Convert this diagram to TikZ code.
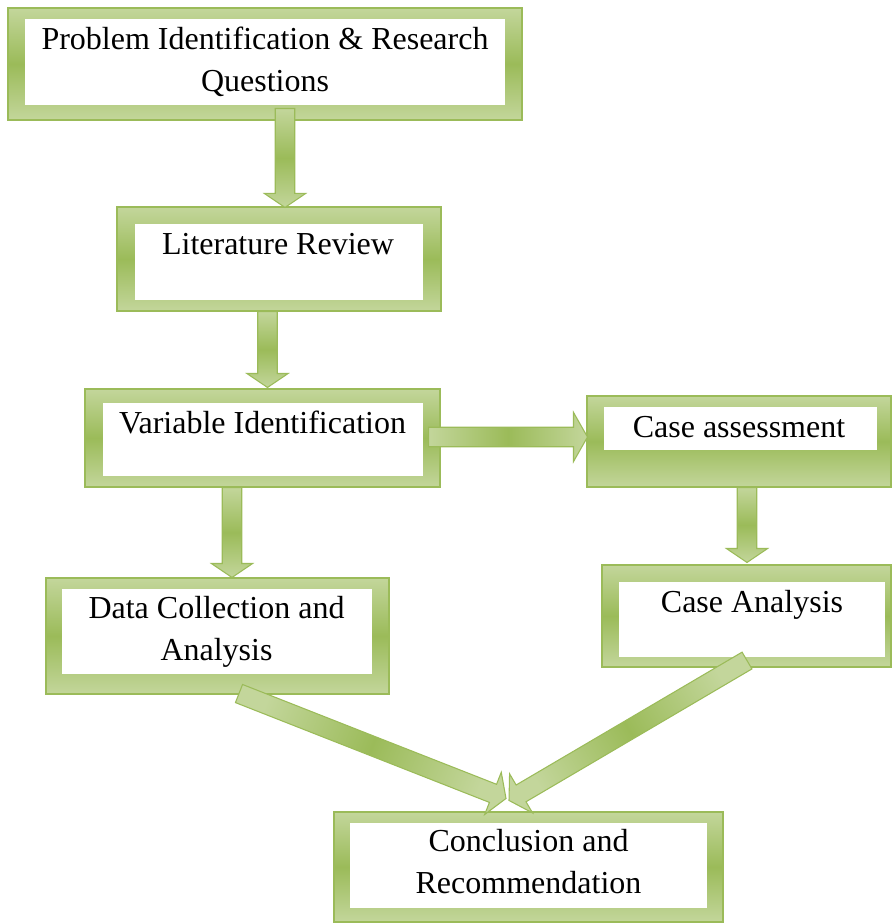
\documentclass[tikz,border=0pt]{standalone}
\usepackage{fontspec}
\setmainfont{Liberation Serif}
\usepackage{tikz}
\usetikzlibrary{calc,% points along and across the block arrows
fit}%                 frames fitted to their corners
\definecolor{olivelight}{HTML}{C3D69B}
\definecolor{olivedark}{HTML}{9BBB59}
\tikzset{every node/.style={font=\fontsize{24}{31.5}\selectfont}}
\tikzset{boxframe/.style={draw=olivedark, line width=0.8pt, inner sep=0pt,
    top color=olivelight, bottom color=olivelight, middle color=olivedark},
  boxtext/.style={align=center, inner sep=0pt},
  arrowfill/.style={draw=olivedark, line width=0.8pt,
    top color=olivelight, bottom color=olivelight, middle color=olivedark}}
\newcommand{\shafthw}{7.3pt}
\newcommand{\headlen}{10.5pt}
% frame with white window: name, outer NW, outer SE, inner NW, inner SE
\newcommand{\greenbox}[5]
{\node[boxframe, fit={(#2) (#3)}] (#1) {};
  \fill[white] (#4) rectangle (#5);}
% block arrow: [head half width] tail, tip, shading angle
\newcommand{\blockarrow}[4][15.5pt]
{\coordinate (ba-tail) at (#2);
  \coordinate (ba-tip) at (#3);
  \coordinate (ba-neck) at ($(ba-tip)!\headlen!(ba-tail)$);
  \path[arrowfill, shading angle=#4]
    ($(ba-tail)!\shafthw!90:(ba-tip)$) -- ($(ba-neck)!\shafthw!90:(ba-tip)$)
    -- ($(ba-neck)!#1!90:(ba-tip)$) -- (ba-tip)
    -- ($(ba-neck)!#1!-90:(ba-tip)$) -- ($(ba-neck)!\shafthw!-90:(ba-tip)$)
    -- ($(ba-tail)!\shafthw!-90:(ba-tip)$) -- cycle;}
\begin{document}
\begin{tikzpicture}[x=0.75pt,y=-0.75pt]
  \useasboundingbox (0,0) rectangle (892,923);
  \greenbox{prob}{8,8}{522,120}{25,19}{505,105}
  \greenbox{lit}{117,207}{441,311}{135,224}{423,300}
  \greenbox{var}{85,389}{440,487}{103,403}{423,476}
  \greenbox{case}{587,396}{891,487}{604,407}{877,450}
  \greenbox{anal}{602,565}{891,667}{619,582}{885,657}
  \greenbox{data}{46,578}{389,694}{62,589}{372,674}
  \greenbox{concl}{334,812}{723,922}{350,823}{707,908}
  \blockarrow{$(prob.south)+(20,-12)$}{$(lit.north)+(6,1)$}{0}
  \blockarrow{$(lit.south)+(-11.5,0)$}{$(var.north)+(5,-1)$}{0}
  \blockarrow[18.5pt]{$(var.east)+(-12,-1)$}{$(case.west)+(1,-4.5)$}{90}
  \blockarrow{$(case.south)+(8,0)$}{$(anal.north)+(0.5,-2)$}{0}
  \blockarrow{$(var.south)+(-30.5,0)$}{$(data.north)+(14.5,0)$}{0}
  \blockarrow[17pt]{$(data.south)+(21.5,-1)$}{$(concl.north)+(-22.5,-13)$}{68.5}
  \blockarrow[17pt]{$(anal.south)+(0.5,-7)$}{$(concl.north)+(-19.5,-11)$}{-59.5}
  \node[boxtext] (prob-t) at (265,62) {Problem Identification \& Research\\Questions};
  \node[boxtext] (lit-t) at (278,244) {Literature Review};
  \node[boxtext] (var-t) at (262.5,422) {Variable Identification};
  \node[boxtext] (case-t) at (739,427) {Case assessment};
  \node[boxtext] (anal-t) at (752,604.5) {Case Analysis};
  \node[boxtext] (data-t) at (216.5,631.5) {Data Collection and\\Analysis};
  \node[boxtext] (concl-t) at (528.5,861.5) {Conclusion and\\Recommendation};
\end{tikzpicture}
\end{document}
